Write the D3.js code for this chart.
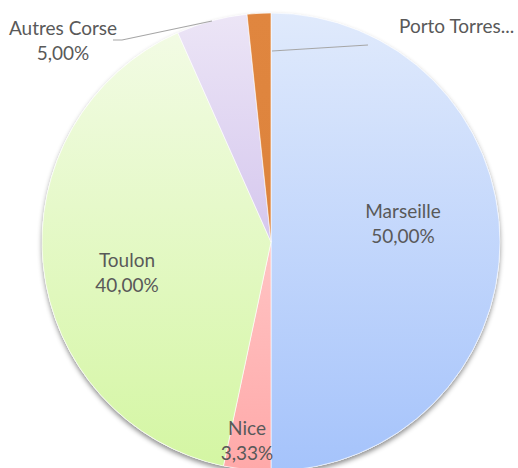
<!DOCTYPE html>
<html>
<head>
<meta charset="utf-8">
<script src="https://cdn.jsdelivr.net/npm/d3@7"></script>
<style>
  html, body { margin: 0; padding: 0; background: #fff; }
  svg text { font-family: Lato, "Open Sans", sans-serif; fill: #595959; }
</style>
</head>
<body>
<svg id="chart" width="518" height="468"></svg>
<script>
// slice data, clockwise from 12 o'clock
const labels = ["Marseille", "Nice", "Toulon", "Autres Corse", "Porto Torres..."];
const values = [50.00, 3.33, 40.00, 5.00, 1.67];
const pctText = ["50,00%", "3,33%", "40,00%", "5,00%", null];
const topColors = ["#e0eafc", "#ffc4c4", "#f2fbe4", "#ece5f6", "#e0863f"];
const bottomColors = ["#a5c3fb", "#ffa9a9", "#d4f6a3", "#d5c7ee", "#dd833c"];

const cx = 271, cy = 242, r = 229;

const svg = d3.select("#chart");
const defs = svg.append("defs");

const shadow = defs.append("filter").attr("id", "shadow")
  .attr("x", "-10%").attr("y", "-10%").attr("width", "120%").attr("height", "120%");
shadow.append("feDropShadow")
  .attr("dx", 0).attr("dy", 3).attr("stdDeviation", 2.5)
  .attr("flood-color", "#000").attr("flood-opacity", 0.45);

labels.forEach((d, i) => {
  const g = defs.append("linearGradient").attr("id", "grad" + i)
    .attr("x1", 0).attr("y1", 0).attr("x2", 0).attr("y2", 1);
  g.append("stop").attr("offset", "0%").attr("stop-color", topColors[i]);
  g.append("stop").attr("offset", "100%").attr("stop-color", bottomColors[i]);
});

const pie = d3.pie().sort(null).value(d => d);
const arcs = pie(values);
const arc = d3.arc().innerRadius(0).outerRadius(r);

const g = svg.append("g").attr("transform", `translate(${cx},${cy})`);

// shadow layer under the whole pie
g.append("circle").attr("r", r).attr("fill", "#fff").attr("filter", "url(#shadow)");

g.selectAll("path.slice")
  .data(arcs)
  .join("path")
  .attr("class", "slice")
  .attr("d", arc)
  .attr("fill", (d, i) => `url(#grad${i})`)
  .attr("stroke", "#fff")
  .attr("stroke-width", 0.6);

// label positions (relative to pie center, first-line baseline)
const labelPos = [
  [132, -24],   // Marseille
  [-24, 193],   // Nice
  [-144, 25],   // Toulon
  [-208, -207], // Autres Corse
  [128, -209]   // Porto Torres (start-anchored)
];
const fs = 19, lineGap = 25;

arcs.forEach((a, i) => {
  const [lx, ly] = labelPos[i];
  if (i === 4) {
    g.append("text").attr("x", lx).attr("y", ly)
      .attr("font-size", fs).text(labels[i]);
    return;
  }
  const t = g.append("text").attr("text-anchor", "middle").attr("font-size", fs);
  t.append("tspan").attr("x", lx).attr("y", ly).text(labels[i]);
  t.append("tspan").attr("x", lx).attr("y", ly + lineGap).text(pctText[i]);
});

// leader lines
const leader = d3.line();
g.append("path")
  .attr("d", leader([[-158, -202], [-149, -202], [-59, -221]]))
  .attr("fill", "none").attr("stroke", "#a6a6a6").attr("stroke-width", 1.2);
g.append("path")
  .attr("d", leader([[1, -191], [97, -197]]))
  .attr("fill", "none").attr("stroke", "#a6a6a6").attr("stroke-width", 1.2);
</script>
</body>
</html>
